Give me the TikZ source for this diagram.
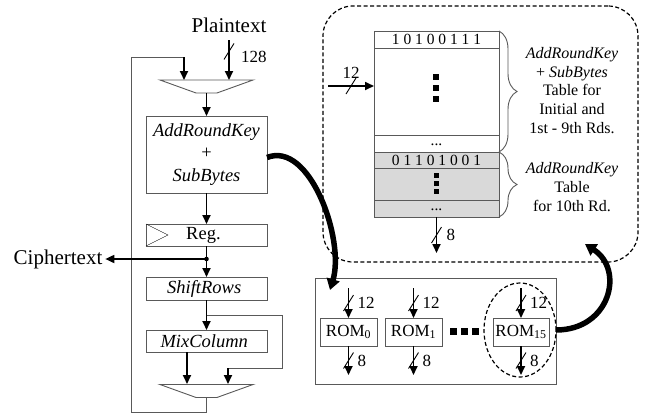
\documentclass[tikz,border=0pt]{standalone}
\usepackage{fontspec}
\setmainfont{Liberation Serif}
\usetikzlibrary{arrows.meta,positioning,shapes.geometric,decorations.pathreplacing}
\definecolor{edge}{gray}{0.35}

\tikzset{
    busmark/.pic={\draw[-, line width=0.9pt, black] (-5,8) -- (5,-8);}
}

\begin{document}
\begin{tikzpicture}[x=1pt, y=-1pt,
    every node/.style={inner sep=0pt, outer sep=0pt},
    stagebox/.style={draw=edge, line width=0.9pt, fill=white, minimum width=121,
        font=\fontsize{18.5}{22.5}\selectfont\itshape, align=center},
    muxbox/.style={draw=edge, line width=0.9pt, trapezium, shape border rotate=180,
        trapezium stretches=true, minimum width=93, minimum height=13,
        trapezium left angle=30, trapezium right angle=30, inner sep=1pt},
    iolabel/.style={font=\fontsize{21}{25}\selectfont},
    buslabel/.style={font=\fontsize{17}{17}\selectfont},
    tabrow/.style={draw=edge, line width=0.9pt, minimum width=125,
        font=\fontsize{15.5}{15.5}\selectfont},
    sidetext/.style={font=\fontsize{16}{18.75}\selectfont, align=center},
    romcell/.style={draw=edge, line width=0.9pt, minimum width=57, minimum height=28,
        font=\fontsize{17}{17}\selectfont},
    sqdot/.style={fill=black, minimum size=6},
    wire/.style={draw=edge, line width=0.9pt},
    dashline/.style={draw, line width=1.2pt, dash pattern=on 4pt off 2.5pt},
    arr/.style={-{Triangle[length=9pt,width=8pt]}, line width=1.7pt},
    bigarr/.style={-{Triangle[length=11pt,width=13pt]}, line width=5.5pt},
    brace/.style={draw=edge, line width=0.9pt, decorate,
        decoration={brace, amplitude=18pt}}
]
    \useasboundingbox (0,0) rectangle (662,416);

    % left data path
    \node (plain) [iolabel, inner ysep=8pt] at (229,25) {Plaintext};
    \node (mux1) [muxbox] at (206.5,86.5) {};
    \node (addsub) [stagebox, minimum height=77] at (206.5,154.5)
    {
        AddRoundKey\\{\upshape +}\\SubBytes
    };
    \node (reg) [stagebox, minimum height=22, font=\fontsize{18.5}{22.5}\selectfont] at (206.5,235)
    {
        Reg.
    };
    \node (shiftrows) [stagebox, minimum height=23] at (206.5,288.5)
    {
        ShiftRows
    };
    \node (mixcol) [stagebox, minimum height=22] at (206.5,341)
    {
        MixColumn
    };
    \node (mux2) [muxbox] at (206.5,391) {};
    \node (cipher) [iolabel, inner xsep=3pt] at (58,259) {Ciphertext};

    \coordinate (mux1_in_l) at (184,80);
    \coordinate (mux1_in_r) at (229,80);
    \coordinate (cdot) at (206.5,259);
    \coordinate (sr_branch) at (206.5,315);
    \coordinate (bp_a) at (282,368);
    \coordinate (bp_b) at (228,368);
    \coordinate (mux2_in_r) at (228,384);
    \coordinate (mux2_in_l) at (187,384);
    \coordinate (fb_a) at (206.5,412);
    \coordinate (fb_b) at (131,412);
    \coordinate (fb_c) at (131,57);
    \coordinate (fb_d) at (184,57);

    \draw[arr] (plain) -- pic[pos=0.28]{busmark}
        node[pos=0.28, buslabel, right=12pt, yshift=-5pt] {128} (mux1_in_r);
    \draw[wire] (mux2) -- (fb_a) -- (fb_b) -- (fb_c) -- (fb_d);
    \draw[arr] (fb_d) -- (mux1_in_l);
    \draw[arr] (mux1) -- (addsub);
    \draw[arr] (addsub) -- (reg);
    \draw (reg.north west) -- ++(22,11) -- (reg.south west);
    \draw[line width=1.7pt] (reg) -- (cdot);
    \draw[arr] (cdot) -- (shiftrows);
    \draw[arr] (cdot) -- (cipher);
    \fill (cdot) circle (2.3);
    \draw[arr] (shiftrows) -- (mixcol);
    \draw[wire] (sr_branch) -| (bp_a) -- (bp_b);
    \draw[arr] (bp_b) -- (mux2_in_r);
    \draw[arr] (mixcol.south -| mux2_in_l) -- (mux2_in_l);

    % lookup table
    \node (tablebox) [dashline, rounded corners=30,
        minimum width=315, minimum height=256] at (480.5,134) {};
    \node (row_a) [tabrow, minimum height=17] at (436.5,39.5) {1 0 1 0 0 1 1 1};
    \node (row_b) [tabrow, minimum height=87, below=0pt of row_a] {};
    \node (row_c) [tabrow, minimum height=17, below=0pt of row_b] {\raisebox{-4pt}{...}};
    \node (row_d) [tabrow, fill=black!15, minimum height=16, below=0pt of row_c] {0 1 1 0 1 0 0 1};
    \node (row_e) [tabrow, fill=black!15, minimum height=32, below=0pt of row_d] {};
    \node (row_f) [tabrow, fill=black!15, minimum height=17, below=0pt of row_e] {\raisebox{-4pt}{...}};
    \foreach \y [count=\i] in {77,88,99}
        \node (dot_a\i) [sqdot] at (436,\y) {};
    \foreach \y [count=\i] in {175,183,191}
        \node (dot_b\i) [sqdot, minimum size=5] at (436,\y) {};

    \draw[brace] (row_a.north east) -- (row_c.south east);
    \draw[brace] (row_d.north east) -- (row_f.south east);
    \node (txt_a) [sidetext] at (572,90.5)
    {
        \textit{AddRoundKey}\\+ \textit{SubBytes}\\Table for\\Initial and\\1st - 9th Rds.
    };
    \node (txt_b) [sidetext] at (572,187)
    {
        \textit{AddRoundKey}\\Table\\for 10th Rd.
    };

    \coordinate (in12) at (328,86);
    \coordinate (out8) at (436.5,253);
    \draw[arr] (in12) -- pic[pos=0.5]{busmark}
        node[pos=0.5, buslabel, yshift=13pt] {12} (in12 -| row_b.west);
    \draw[arr] (row_f) -- pic[pos=0.5]{busmark}
        node[pos=0.5, buslabel, right=10pt] {8} (out8);

    % ROM array
    \node (rombox) [draw=edge, line width=0.9pt, minimum width=241, minimum height=106] at (435.5,331) {};
    \node (rom0) [romcell] at (348.5,332) {ROM\textsubscript{0}};
    \node (rom1) [romcell] at (413.5,332) {ROM\textsubscript{1}};
    \node (rom15) [romcell, minimum width=56] at (521,332) {ROM\textsubscript{15}};
    \foreach \x [count=\i] in {453,464,475}
        \node (dot_r\i) [sqdot, minimum size=7] at (\x,331) {};
    \node (romsel) [dashline, ellipse,
        minimum width=72, minimum height=94] at (520,330) {};

    \foreach \r in {rom0,rom1,rom15}
    {
        \path (\r.north) ++(0,-30) coordinate (\r_top);
        \path (\r.south) ++(0,29) coordinate (\r_bot);
        \draw[arr] (\r_top) -- pic[pos=0.5]{busmark}
            node[pos=0.5, buslabel, right=9pt] {12} (\r.north);
        \draw[arr] (\r.south) -- pic[pos=0.5]{busmark}
            node[pos=0.5, buslabel, right=9pt] {8} (\r_bot);
    }

    \draw[bigarr] ([yshift=-3pt]addsub.east) .. controls +(43,-17) and +(15,-50)
        .. ([xshift=15pt,yshift=-12pt]rombox.north west);
    \draw[bigarr] (romsel.east) .. controls +(54,0) and +(40,26)
        .. ([xshift=-53pt,yshift=18pt]tablebox.south east);

\end{tikzpicture}
\end{document}
